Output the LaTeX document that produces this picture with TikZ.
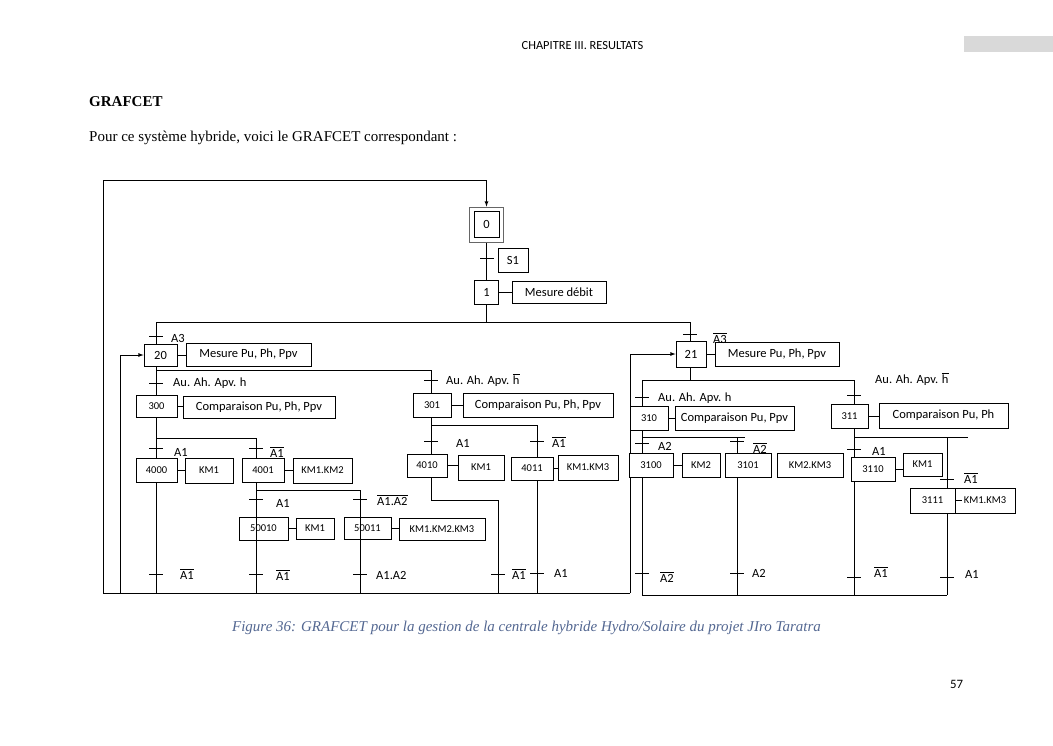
\documentclass[tikz,border=0pt]{standalone}
\usepackage{fontspec}
\setmainfont{Liberation Serif}
\newfontfamily\calib{Carlito}
\usetikzlibrary{backgrounds}
\definecolor{legende}{RGB}{84,104,146}
\definecolor{bandeau}{RGB}{217,217,217}
\newcommand{\nonsig}[1]{\ensuremath{\overline{\hbox{#1}}}}

\begin{document}
\begin{tikzpicture}[x=1pt,y=-1pt,
    lien/.style={line width=0.8pt},
    fleche/.style={lien,-latex},
    etape/.style={draw,fill=white,line width=0.8pt,inner sep=0pt,
        font=\calib\fontsize{10.5}{12}\selectfont},
    grand/.style={font=\calib\fontsize{12.5}{14}\selectfont},
    taille/.style 2 args={minimum width=#1pt,minimum height=#2pt},
    recep/.style={anchor=west,inner sep=0pt,font=\calib\fontsize{12.5}{14}\selectfont}]
    \useasboundingbox (0,0) rectangle (1053,745);

    % page
    \fill[bandeau] (964,36) rectangle (1053,52);
    \node[font=\calib\fontsize{12.4}{14}\selectfont] (entete) at (582.5,46) {CHAPITRE III. RESULTATS};
    \node[anchor=west,inner sep=0pt,font=\bfseries\fontsize{15}{18}\selectfont] (titre) at (89,102) {GRAFCET};
    \node[anchor=west,inner sep=0pt,font=\fontsize{15}{18}\selectfont] (intro) at (89,138)
        {Pour ce système hybride, voici le GRAFCET correspondant :};
    \node[text=legende,font=\itshape\fontsize{15}{18}\selectfont] (legende) at (526.5,628)
        {Figure 36: GRAFCET pour la gestion de la centrale hybride Hydro/Solaire du projet JIro Taratra};
    \node[font=\calib\fontsize{12.8}{15}\selectfont] (page) at (956.5,684) {57};

    % points de jonction
    \coordinate (haut) at (486.5,180);
    \coordinate (b1) at (103,593);
    \coordinate (b20) at (120,593);
    \coordinate (b2) at (630,593);
    \coordinate (b3) at (642,595);
    \coordinate (b4) at (947,595);
    \coordinate (dL) at (156,322);
    \coordinate (dR) at (690,322);
    \coordinate (d20g) at (156,370);
    \coordinate (d20d) at (431,370);
    \coordinate (d300g) at (156,438);
    \coordinate (d300d) at (256,438);
    \coordinate (d4001g) at (256,490);
    \coordinate (d4001d) at (360,490);
    \coordinate (d301g) at (431,425);
    \coordinate (d301d) at (537,425);
    \coordinate (c4010) at (431,500);
    \coordinate (c4010d) at (498,500);
    \coordinate (d21g) at (642,380);
    \coordinate (d21d) at (854,380);
    \coordinate (d310g) at (642,437);
    \coordinate (d310d) at (745,437);
    \coordinate (c3101) at (737,437);
    \coordinate (d311g) at (854,437);
    \coordinate (d311d) at (968,437);
    \coordinate (c3111) at (947,437);

    % etapes et actions
    \node[etape,taille={34}{35},draw=black!60] (s0b) at (486.5,224.5) {};
    \node[etape,grand,taille={25}{26}] (s0) at (486.5,224) {0};
    \node[etape,grand,taille={30}{24}] (rS1) at (513,260) {S1};
    \node[etape,grand,taille={24}{24}] (s1) at (486.5,292) {1};
    \node[etape,grand,taille={94}{22}] (a1) at (559,292) {Mesure débit};

    \node[etape,grand,taille={33}{22}] (s20) at (160.5,355) {20};
    \node[etape,grand,taille={125}{23}] (a20) at (248.5,354.5) {Mesure Pu, Ph, Ppv};
    \node[etape,grand,taille={30}{26}] (s21) at (691,354) {21};
    \node[etape,grand,taille={124}{24}] (a21) at (777,354) {Mesure Pu, Ph, Ppv};

    \node[etape,taille={41}{22}] (s300) at (156.5,406.5) {300};
    \node[etape,grand,taille={152}{22}] (a300) at (259,407) {Comparaison Pu, Ph, Ppv};
    \node[etape,taille={38}{24}] (s301) at (432,405.5) {301};
    \node[etape,grand,taille={150}{24}] (a301) at (538,405) {Comparaison Pu, Ph, Ppv};
    \node[etape,taille={38}{24}] (s310) at (649,418) {310};
    \node[etape,grand,taille={119}{24}] (a310) at (734.5,418) {Comparaison Pu, Ppv};
    \node[etape,taille={37}{24}] (s311) at (849.5,416) {311};
    \node[etape,grand,taille={129}{25}] (a311) at (943.5,415.5) {Comparaison Pu, Ph};

    \node[etape,taille={41}{24}] (s4000) at (156.5,470) {4000};
    \node[etape,taille={48}{25}] (a4000) at (209,470.5) {KM1};
    \node[etape,taille={42}{24}] (s4001) at (263,470) {4001};
    \node[etape,taille={59}{25}] (a4001) at (322.5,470.5) {KM1.KM2};
    \node[etape,taille={40}{23}] (s4010) at (427,465.5) {4010};
    \node[etape,taille={46}{25}] (a4010) at (481,467.5) {KM1};
    \node[etape,taille={42}{23}] (s4011) at (532,468.5) {4011};
    \node[etape,taille={60}{25}] (a4011) at (588,467.5) {KM1.KM3};
    \node[etape,fill=none,taille={49}{23}] (s50010) at (263.5,528.5) {50010};
    \node[etape,taille={38}{21}] (a50010) at (315,528.5) {KM1};
    \node[etape,fill=none,taille={47}{22}] (s50011) at (367.5,528) {50011};
    \node[etape,taille={86}{22}] (a50011) at (442,529) {KM1.KM2.KM3};

    \node[etape,taille={44}{24}] (s3100) at (651,465) {3100};
    \node[etape,taille={38}{24}] (a3100) at (701,465) {KM2};
    \node[etape,taille={46}{24}] (s3101) at (748,465) {3101};
    \node[etape,taille={66}{24}] (a3101) at (810,465) {KM2.KM3};
    \node[etape,taille={44}{24}] (s3110) at (873,469) {3110};
    \node[etape,taille={39}{23}] (a3110) at (922.5,464.5) {KM1};
    \node[etape,taille={45}{25}] (s3111) at (932.5,500.5) {3111};
    \node[etape,taille={60}{25}] (a3111) at (985,500.5) {KM1.KM3};

    % receptivites
    \node[recep] (rA3) at (171,338) {A3};
    \node[recep] (rnA3) at (713,338) {\nonsig{A3}};
    \node[recep] (rh20) at (173,383) {Au. Ah. Apv. h};
    \node[recep] (rnh20) at (446,380) {Au. Ah. Apv. \nonsig{h}};
    \node[recep] (rh21) at (658,398) {Au. Ah. Apv. h};
    \node[recep] (rnh21) at (875,379) {Au. Ah. Apv. \nonsig{h}};
    \node[recep] (r4000) at (174,452) {A1};
    \node[recep] (r4001) at (270,452) {\nonsig{A1}};
    \node[recep] (r50010) at (276,503) {A1};
    \node[recep] (r50011) at (377,500) {\nonsig{A1.A2}};
    \node[recep] (r4010) at (456,443) {A1};
    \node[recep] (r4011) at (552,442) {\nonsig{A1}};
    \node[recep] (r3100) at (658,446) {A2};
    \node[recep] (r3101) at (753,448) {\nonsig{A2}};
    \node[recep] (r3110) at (872,451) {A1};
    \node[recep] (r3111) at (964,478) {\nonsig{A1}};
    \node[recep] (f4000) at (180,574) {\nonsig{A1}};
    \node[recep] (f50010) at (276,575) {\nonsig{A1}};
    \node[recep] (f50011) at (376,575) {A1.A2};
    \node[recep] (f4010) at (512,574) {\nonsig{A1}};
    \node[recep] (f4011) at (554,573) {A1};
    \node[recep] (f3100) at (660,577) {\nonsig{A2}};
    \node[recep] (f3101) at (752,573) {A2};
    \node[recep] (f3110) at (874,572) {\nonsig{A1}};
    \node[recep] (f3111) at (965,574) {A1};

    % liaisons etape - action
    \foreach \st/\ac in {s1/a1,s20/a20,s21/a21,s300/a300,s301/a301,s310/a310,s311/a311,
        s4000/a4000,s4001/a4001,s4010/a4010,s4011/a4011,s50010/a50010,s50011/a50011,
        s3100/a3100,s3110/a3110}
        \draw[lien] (\st.east) -- (\st.east -| \ac.west);
    \draw[lien] (s3111.east) -- ++(7,0);

    \begin{pgfonlayer}{background}
    \fill[white] (0,0) rectangle (1053,745);
    \draw[lien] (s0b.south) -- (s1.north);
    \draw[lien] (s1.south) -- (s1.south |- dL);
    \draw[lien] (dL) -- (dR);
    \draw[lien] (dL) -- (dL |- b1);
    \draw[lien] (d20g) -- (d20d) -- (c4010) -- (c4010d) -- (c4010d |- b1);
    \draw[lien] (d300g) -- (d300d) -- (d300d |- b1);
    \draw[lien] (d4001g) -- (d4001d) -- (d4001d |- b1);
    \draw[lien] (d301g) -- (d301d) -- (d301d |- b1);
    \draw[lien] (dR) -- (dR |- d21g);
    \draw[lien] (d21g) -- (d21d);
    \draw[lien] (d21g) -- (d21g |- b3);
    \draw[lien] (d21d) -- (d21d |- b3);
    \draw[lien] (d310g) -- (d310d);
    \draw[lien] (c3101) -- (c3101 |- b3);
    \draw[lien] (d311g) -- (d311d);
    \draw[lien] (c3111) -- (c3111 |- b3);
    \draw[lien] (b1) -- (b2);
    \draw[lien] (b3) -- (b4);
    \draw[fleche] (b1) |- (haut) -- (s0b.north);
    \draw[fleche] (b20) |- (s20.west);
    \draw[fleche] (b2) |- (s21.west);
    % transitions
    \foreach \x/\y in {487/258,156/336,690/334,156/383,431/380,642/397,854/395,
        156/448,256/448,256/499,360/499,431/441,537/441,642/443,737/441,854/449,947/479,
        156/574,256/574,360/574,498/574,537/573,642/573,737/573,854/577,947/577}
        \draw[lien] ({\x-7},\y) -- ({\x+7},\y);
    \end{pgfonlayer}
\end{tikzpicture}
\end{document}
